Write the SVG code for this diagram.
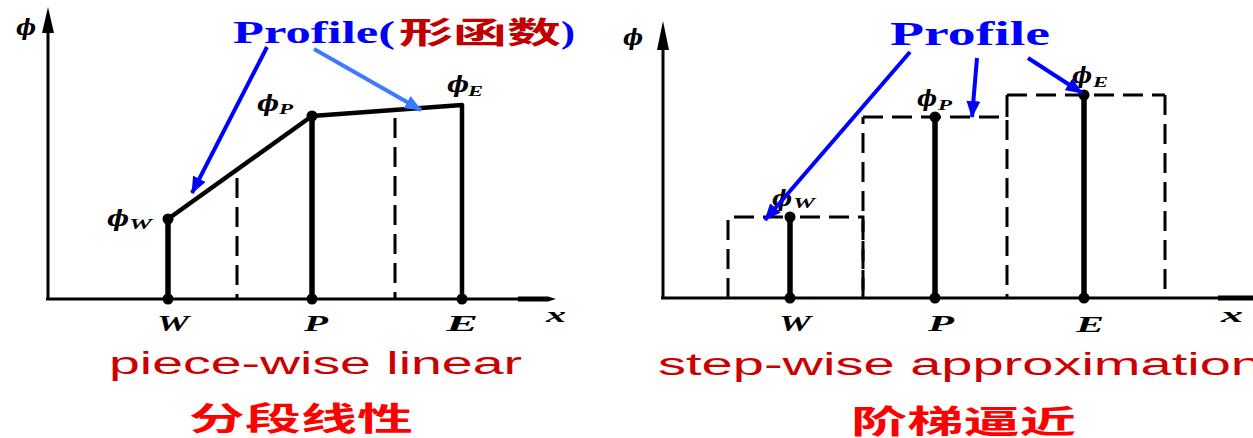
<svg xmlns="http://www.w3.org/2000/svg" width="1253" height="438" viewBox="0 0 1253 438">
<style>
.ax{stroke:#000;stroke-width:3;fill:none}
.thick{stroke:#000;stroke-width:5.5;fill:none}
.prof{stroke:#000;stroke-width:4.5;fill:none;stroke-linejoin:round}
.dash{stroke:#000;stroke-width:3;fill:none;stroke-dasharray:20 9}
.blue{stroke:#0000ff;stroke-width:4;fill:none}
.lblue{stroke:#3a7bff;stroke-width:4;fill:none}
.dot{fill:#000}
.lab{font-family:"Liberation Serif",serif;font-style:italic;font-weight:bold;fill:#000}
.phi{font-family:"DejaVu Serif","Liberation Serif",serif;font-style:italic;font-weight:bold;fill:#000}
.prt{font-family:"Liberation Serif",serif;font-weight:bold;fill:#0000ff}
.en{font-family:"Liberation Sans",sans-serif;fill:#cc0000}
.zh{font-family:"Liberation Sans","Noto Sans CJK SC",sans-serif;font-weight:bold;fill:#ff0000}
</style>
<defs>
<marker id="ab" markerUnits="userSpaceOnUse" markerWidth="18" markerHeight="14" refX="16" refY="7" orient="auto"><path d="M0,0 L17,7 L0,14 Z" fill="#0000ff"/></marker>
<marker id="alb" markerUnits="userSpaceOnUse" markerWidth="18" markerHeight="14" refX="16" refY="7" orient="auto"><path d="M0,0 L17,7 L0,14 Z" fill="#3a7bff"/></marker>
</defs>

<g id="left-plot">
  <g id="left-axes">
    <line class="ax" x1="48" y1="30" x2="48" y2="299"/>
    <polygon points="48,7 54,33 42,33" fill="#000"/>
    <line class="ax" x1="46" y1="299" x2="540" y2="299"/>
    <polygon points="518,296.5 548,296.5 556,299 548,301.5 518,301.5" fill="#000"/>
    <text class="phi" x="16" y="35" font-size="22" textLength="20" lengthAdjust="spacingAndGlyphs">ϕ</text>
    <text class="lab" x="546" y="322" font-size="20" textLength="20" lengthAdjust="spacingAndGlyphs">x</text>
  </g>
  <g id="left-dashes">
    <line class="dash" x1="237" y1="178" x2="237" y2="298"/>
    <line class="dash" x1="395" y1="118" x2="395" y2="298"/>
  </g>
  <g id="left-profile">
    <polyline class="prof" points="168,219 312,116 462,105 462,299"/>
    <line class="thick" x1="168" y1="219" x2="168" y2="299"/>
    <line class="thick" x1="312" y1="116" x2="312" y2="299"/>
    <circle class="dot" cx="168" cy="219" r="5.5"/>
    <circle class="dot" cx="312" cy="116" r="5.5"/>
    <circle class="dot" cx="168" cy="299" r="5.5"/>
    <circle class="dot" cx="312" cy="299" r="5.5"/>
    <circle class="dot" cx="462" cy="299" r="5.5"/>
  </g>
  <g id="left-labels">
    <text class="phi" x="107" y="226" font-size="22" textLength="22" lengthAdjust="spacingAndGlyphs">ϕ</text>
    <text class="lab" x="129" y="229" font-size="15" textLength="23" lengthAdjust="spacingAndGlyphs">W</text>
    <text class="phi" x="257" y="111" font-size="22" textLength="22" lengthAdjust="spacingAndGlyphs">ϕ</text>
    <text class="lab" x="279" y="114" font-size="15" textLength="14" lengthAdjust="spacingAndGlyphs">P</text>
    <text class="phi" x="447" y="92" font-size="22" textLength="22" lengthAdjust="spacingAndGlyphs">ϕ</text>
    <text class="lab" x="468" y="96" font-size="15" textLength="15" lengthAdjust="spacingAndGlyphs">E</text>
    <text class="lab" x="157" y="331" font-size="24" textLength="32" lengthAdjust="spacingAndGlyphs">W</text>
    <text class="lab" x="304" y="331" font-size="24" textLength="24" lengthAdjust="spacingAndGlyphs">P</text>
    <text class="lab" x="446" y="331" font-size="24" textLength="32" lengthAdjust="spacingAndGlyphs">E</text>
  </g>
  <g id="left-title">
    <text class="prt" x="233" y="43" font-size="32" textLength="162" lengthAdjust="spacingAndGlyphs">Profile(</text>
    <text x="399" y="43" font-size="30" textLength="162" lengthAdjust="spacingAndGlyphs" font-family="'Noto Sans CJK SC',sans-serif" font-weight="bold" fill="#c00000">形函数</text>
    <text class="prt" x="561" y="43" font-size="32" textLength="14" lengthAdjust="spacingAndGlyphs">)</text>
  </g>
  <g id="left-caption">
    <text class="en" x="109" y="374" font-size="31" textLength="413" lengthAdjust="spacingAndGlyphs">piece-wise linear</text>
    <text class="zh" x="189" y="430" font-size="32" textLength="224" lengthAdjust="spacingAndGlyphs">分段线性</text>
  </g>
</g>

<g id="right-plot">
  <g id="right-axes">
    <line class="ax" x1="663" y1="45" x2="663" y2="298"/>
    <polygon points="663,21 669,50 657,50" fill="#000"/>
    <line class="ax" x1="661" y1="298" x2="1230" y2="298"/>
    <polygon points="1218,295.5 1253,295.5 1253,300.5 1218,300.5" fill="#000"/>
    <text class="phi" x="623" y="45" font-size="22" textLength="20" lengthAdjust="spacingAndGlyphs">ϕ</text>
    <text class="lab" x="1221" y="322" font-size="20" textLength="22" lengthAdjust="spacingAndGlyphs">x</text>
  </g>
  <g id="right-steps">
    <polyline class="dash" points="728,298 728,217 790,217"/>
    <polyline class="dash" points="800,217 863,217 863,298"/>
    <line class="dash" x1="863" y1="298" x2="863" y2="117"/>
    <line class="dash" x1="863" y1="117" x2="1007" y2="117"/>
    <line class="ax" x1="1007" y1="117" x2="1007" y2="95"/>
    <line class="dash" x1="1007" y1="120" x2="1007" y2="298"/>
    <line class="dash" x1="1007" y1="95" x2="1165" y2="95"/>
    <line class="dash" x1="1165" y1="95" x2="1165" y2="298"/>
  </g>
  <g id="right-values">
    <line class="thick" x1="790" y1="217" x2="790" y2="298"/>
    <line class="thick" x1="935" y1="117" x2="935" y2="298"/>
    <line class="thick" x1="1084" y1="95" x2="1084" y2="298"/>
    <circle class="dot" cx="790" cy="217" r="5.5"/>
    <circle class="dot" cx="935" cy="117" r="5.5"/>
    <circle class="dot" cx="1084" cy="95" r="5.5"/>
    <circle class="dot" cx="790" cy="298" r="5.5"/>
    <circle class="dot" cx="935" cy="298" r="5.5"/>
    <circle class="dot" cx="1084" cy="298" r="5.5"/>
  </g>
  <g id="right-labels">
    <text class="phi" x="772" y="206" font-size="22" textLength="20" lengthAdjust="spacingAndGlyphs">ϕ</text>
    <text class="lab" x="793" y="208" font-size="15" textLength="22" lengthAdjust="spacingAndGlyphs">W</text>
    <text class="phi" x="917" y="106" font-size="22" textLength="20" lengthAdjust="spacingAndGlyphs">ϕ</text>
    <text class="lab" x="938" y="110" font-size="15" textLength="14" lengthAdjust="spacingAndGlyphs">P</text>
    <text class="phi" x="1072" y="83" font-size="22" textLength="20" lengthAdjust="spacingAndGlyphs">ϕ</text>
    <text class="lab" x="1093" y="87" font-size="15" textLength="15" lengthAdjust="spacingAndGlyphs">E</text>
    <text class="lab" x="779" y="331" font-size="24" textLength="32" lengthAdjust="spacingAndGlyphs">W</text>
    <text class="lab" x="928" y="331" font-size="24" textLength="26" lengthAdjust="spacingAndGlyphs">P</text>
    <text class="lab" x="1076" y="332" font-size="24" textLength="28" lengthAdjust="spacingAndGlyphs">E</text>
  </g>
  <g id="right-title">
    <text class="prt" x="890" y="45" font-size="33" textLength="160" lengthAdjust="spacingAndGlyphs">Profile</text>
  </g>
  <g id="right-caption">
    <text class="en" x="658" y="375" font-size="31" textLength="604" lengthAdjust="spacingAndGlyphs">step-wise approximation</text>
    <text class="zh" x="851" y="433" font-size="32" textLength="225" lengthAdjust="spacingAndGlyphs">阶梯逼近</text>
  </g>
</g>

<g id="connectors">
  <line class="blue" x1="267" y1="47" x2="192" y2="193" marker-end="url(#ab)"/>
  <line class="lblue" x1="314" y1="49" x2="421" y2="110" marker-end="url(#alb)"/>
  <line class="blue" x1="910" y1="52" x2="765" y2="220" marker-end="url(#ab)"/>
  <line class="blue" x1="977" y1="58" x2="972" y2="117" marker-end="url(#ab)"/>
  <line class="blue" x1="1028" y1="58" x2="1082" y2="93" marker-end="url(#ab)"/>
</g>
</svg>
